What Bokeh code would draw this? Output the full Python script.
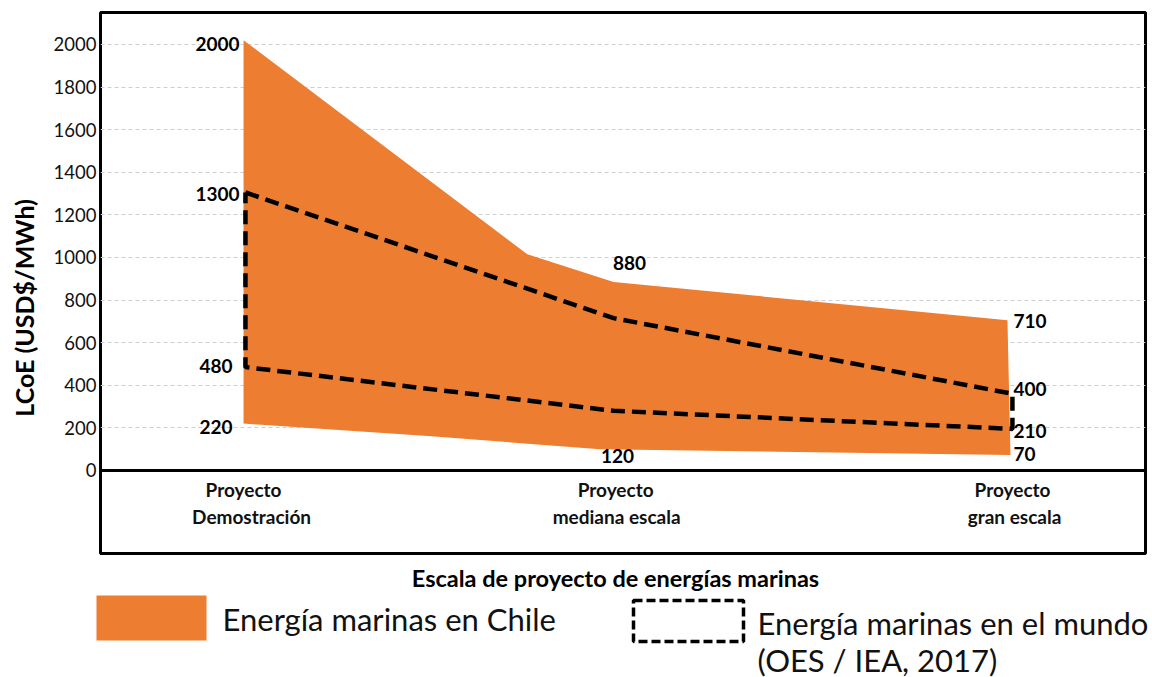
import math
from bokeh.plotting import figure
from bokeh.layouts import column, row
from bokeh.models import Range1d, FixedTicker, Span
from bokeh.core.properties import value
from bokeh.embed import file_html
from bokeh.resources import INLINE

# ---------------- data ----------------
cat_line1 = ["Proyecto", "Proyecto", "Proyecto"]
cat_line2 = ["Demostración", "mediana escala", "gran escala"]
cat_x = [1.0, 1.965, 3.0]

# Chile band (orange area)
chile_upper_x = [1.0, 1.74, 1.965, 2.992]
chile_upper_y = [2020, 1015, 885, 705]
chile_lower_x = [1.0, 1.49, 1.93, 3.0]
chile_lower_y = [220, 160, 100, 72]

# World band (dashed outline)
world_x = [1.005, 1.965, 3.005]
world_max = [1305, 715, 360]
world_min = [485, 280, 195]

# value labels
left_vals = [2000, 1300, 480, 220]
mid_vals = [880, 120]
right_vals = [710, 400, 210, 70]

y_ticks = list(range(0, 2001, 200))

ORANGE = "#ED7D31"
FONT = "Lato"

# ---------------- main plot ----------------
p = figure(width=1102, height=555,
           x_range=Range1d(0.627, 3.352), y_range=Range1d(-390, 2150),
           output_backend="svg", toolbar_location=None,
           x_axis_location=None,
           min_border_left=52, min_border_right=5,
           min_border_top=12, min_border_bottom=2)
p.outline_line_color = "black"
p.outline_line_width = 3
p.outline_line_alpha = 1.0
p.background_fill_color = "white"
p.border_fill_color = "white"

p.xgrid.visible = False
p.ygrid.ticker = FixedTicker(ticks=[t for t in y_ticks if t > 0])
p.ygrid.grid_line_color = "#cfcfcf"
p.ygrid.grid_line_dash = "4 3"
p.ygrid.grid_line_width = 1

ax = p.yaxis[0]
ax.ticker = FixedTicker(ticks=y_ticks)
ax.major_tick_out = 0
ax.major_tick_in = 0
ax.minor_tick_out = 0
ax.minor_tick_in = 0
ax.axis_line_color = None
ax.major_label_standoff = 4
ax.major_label_text_font = FONT
ax.major_label_text_font_size = "18.5px"
ax.major_label_text_color = "#111111"

# orange area
poly_x = chile_upper_x + chile_lower_x[::-1]
poly_y = chile_upper_y + chile_lower_y[::-1]
p.patch(poly_x, poly_y, fill_color=ORANGE, line_color=None)

# zero line
p.add_layout(Span(location=0, dimension="width", line_color="black", line_width=3))

# world dashed outline (closed loop)
wx = world_x + world_x[::-1] + [world_x[0]]
wy = world_max + world_min[::-1] + [world_max[0]]
p.line(wx, wy, line_color="black", line_width=4.5, line_dash="14 7")

# value labels
lab_font = dict(text_font=value(FONT), text_font_size="19px", text_font_style="bold",
                text_color="black", text_baseline="middle")
p.text(x=[cat_x[0]] * len(left_vals), y=left_vals, text=[str(v) for v in left_vals],
       x_offset=[-4, -4, -11, -11], y_offset=[0, 0, -2, 3],
       text_align="right", **lab_font)
p.text(x=[cat_x[1]] * len(mid_vals), y=mid_vals, text=[str(v) for v in mid_vals],
       x_offset=[16, 4], y_offset=[-20, 11],
       text_align="center", **lab_font)
p.text(x=[cat_x[2]] * len(right_vals), y=right_vals, text=[str(v) for v in right_vals],
       x_offset=[3, 3, 3, 3], y_offset=[2, 4, 5, -2],
       text_align="left", **lab_font)

# category labels inside frame, below zero
cat_font = dict(text_font=value(FONT), text_font_size="19px", text_font_style="bold",
                text_color="#111111", text_align="center", text_baseline="middle")
p.text(x=cat_x, y=[0] * 3, text=cat_line1, y_offset=[19] * 3, x_offset=[0, 2, 2], **cat_font)
p.text(x=cat_x, y=[0] * 3, text=cat_line2, y_offset=[46] * 3, x_offset=[8, 3, 4], **cat_font)

# ---------------- y title strip ----------------
yt = figure(width=48, height=555, x_range=Range1d(0, 48), y_range=Range1d(0, 555),
            output_backend="svg", toolbar_location=None,
            x_axis_location=None, y_axis_location=None,
            min_border=0, outline_line_color=None)
yt.grid.visible = False
yt.text(x=[23], y=[252], text=["LCoE (USD$/MWh)"], angle=math.pi / 2,
        text_align="center", text_baseline="middle",
        text_font=value(FONT), text_font_size="25px", text_font_style="bold",
        text_color="black")

# ---------------- bottom: x title + legend ----------------
bt = figure(width=1150, height=122, x_range=Range1d(0, 1150), y_range=Range1d(0, 122),
            output_backend="svg", toolbar_location=None,
            x_axis_location=None, y_axis_location=None,
            min_border=0, outline_line_color=None)
bt.grid.visible = False
bt.text(x=[615], y=[100], text=["Escala de proyecto de energías marinas"],
        text_align="center", text_baseline="middle",
        text_font=value(FONT), text_font_size="23.5px", text_font_style="bold",
        text_color="black")
bt.quad(left=[96], right=[206], bottom=[37], top=[82], fill_color=ORANGE, line_color=None)
bt.text(x=[222], y=[59], text=["Energía marinas en Chile"],
        text_align="left", text_baseline="middle",
        text_font=value(FONT), text_font_size="31px", text_color="#111111")
bt.quad(left=[633], right=[743], bottom=[36], top=[77], fill_color=None,
        line_color="black", line_width=3.5, line_dash="9 4")
bt.text(x=[757], y=[55], text=["Energía marinas en el mundo"],
        text_align="left", text_baseline="middle",
        text_font=value(FONT), text_font_size="31px", text_color="#111111")
bt.text(x=[757], y=[18], text=["(OES / IEA, 2017)"],
        text_align="left", text_baseline="middle",
        text_font=value(FONT), text_font_size="31px", text_color="#111111")

layout = column(row(yt, p), bt)
open("out.html", "w").write(file_html(layout, INLINE))
